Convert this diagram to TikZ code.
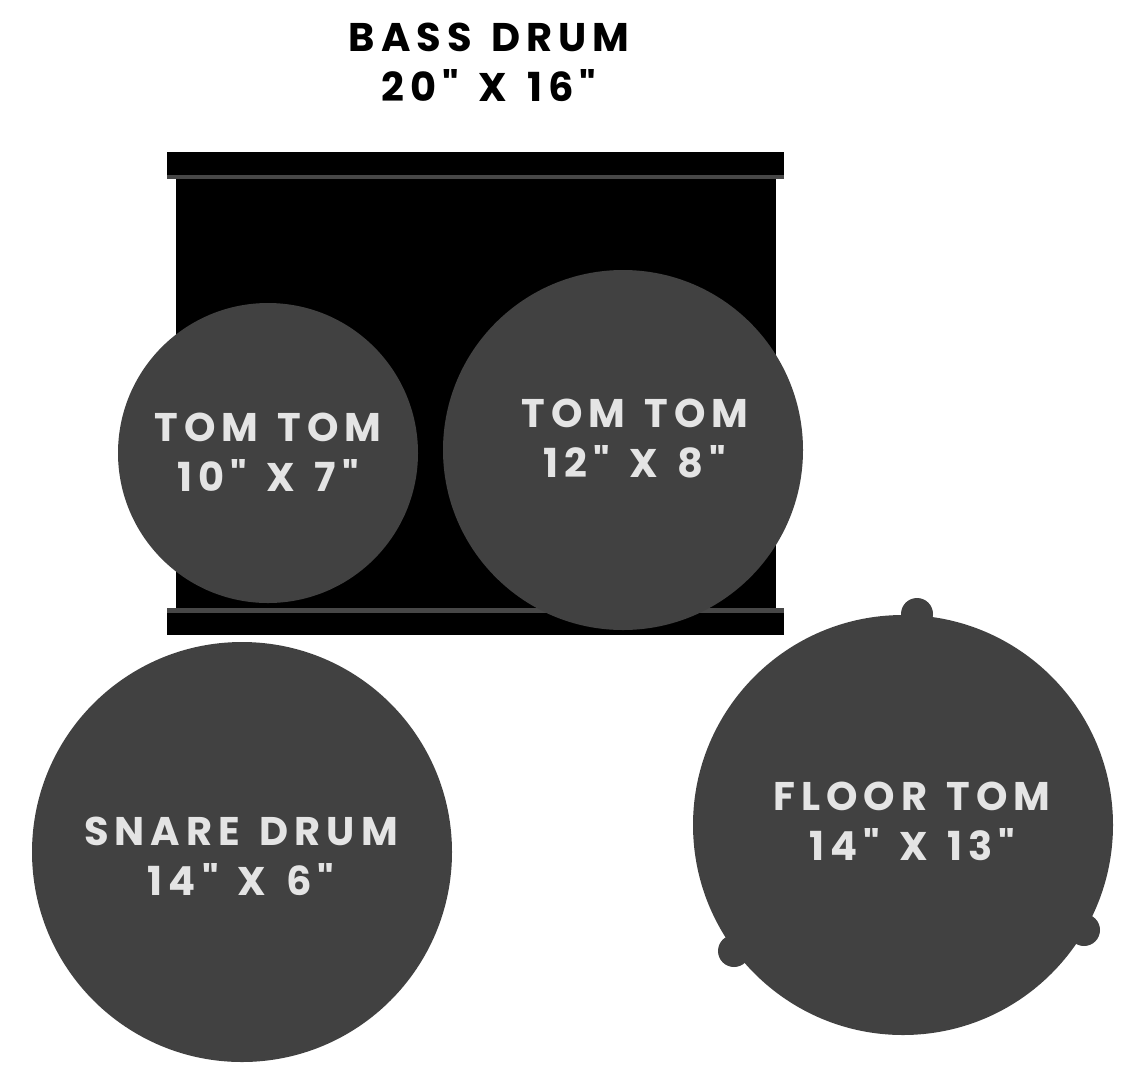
\documentclass[tikz,border=0pt]{standalone}
\usepackage{fontspec}
\newfontfamily\drumfont{Poppins}[LetterSpace=15.0,WordSpace=1.35]
\usetikzlibrary{positioning}
\definecolor{shell}{HTML}{414141}
\definecolor{head}{HTML}{E4E4E4}
\definecolor{hoop}{HTML}{474747}

\begin{document}
\begin{tikzpicture}[x=1pt,y=-1pt,
	drum/.style={circle,fill=shell,inner sep=0pt},
	lug/.style={circle,fill=shell,inner sep=0pt,minimum size=32pt},
	label/.style={align=center,font=\drumfont\bfseries\fontsize{40}{50}\selectfont,text=head},
	title/.style={label,text=black}]

	\useasboundingbox (0,0) rectangle (1137,1077);

	% bass drum
	\fill [black] (176,178) rectangle (776,609);
	\fill [black] (167,152) rectangle (784,175);
	\fill [hoop]  (167,175) rectangle (784,179);
	\fill [hoop]  (167,608) rectangle (784,613);
	\fill [black] (167,613) rectangle (784,635);
	\node [title] at (489,62)	(bass)		{BASS DRUM\\20" X 16"};

	% toms
	\node [drum,minimum size=300pt] at (268,453)	(tom_a)		{};
	\node [drum,minimum size=360pt] at (623,450)	(tom_b)		{};
	\node [label] at (268,452)	(tom_a_text)	{TOM TOM\\10" X 7"};
	\node [label] at (635,439)	(tom_b_text)	{TOM TOM\\12" X 8"};

	% snare
	\node [drum,minimum size=420pt] at (242,852)	(snare)		{};
	\node [label] at (241,856)	(snare_text)	{SNARE DRUM\\14" X 6"};

	% floor tom
	\node [lug] at (917,614)	(lug_a)		{};
	\node [lug] at (734,951)	(lug_b)		{};
	\node [lug] at (1084,930)	(lug_c)		{};
	\node [drum,minimum size=420pt] at (903,825)	(floor)		{};
	\node [label] at (912,821)	(floor_text)	{FLOOR TOM\\14" X 13"};

\end{tikzpicture}
\end{document}
